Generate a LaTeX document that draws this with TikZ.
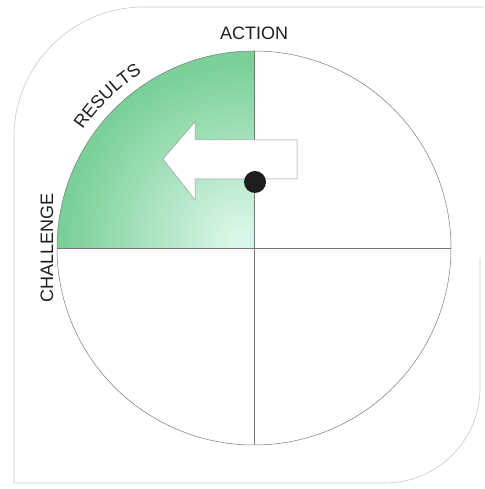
\documentclass[tikz,border=0pt]{standalone}
\usepackage{fontspec}
\setmainfont{Liberation Sans}
\usetikzlibrary{decorations.text}
\definecolor{darkg}{RGB}{122,208,152}
\definecolor{lightg}{RGB}{222,248,234}
\definecolor{framec}{RGB}{200,200,200}
\definecolor{linec}{RGB}{120,120,120}
\definecolor{textc}{RGB}{30,30,30}
\tikzset{
  framestyle/.style={draw=framec, line width=0.6pt},
  ruleline/.style={draw=linec, line width=0.5pt},
  labeltext/.style={font=\fontsize{18}{18}\selectfont, text=textc, inner sep=0pt},
  arrowshape/.style={fill=white, draw=black!40, line width=0.5pt},
}
\begin{document}
\begin{tikzpicture}[x=1pt,y=1pt]
\useasboundingbox (0,0) rectangle (484,489);
% frame
\path[framestyle] (484,482) -- (144,482) arc (90:180:130) -- (14,6) -- (385,6) arc (270:360:95) -- (480,230);
% center and geometry
\coordinate (C) at (254,241);
\coordinate (T) at (254,438);
\coordinate (B) at (254,44);
\coordinate (L) at (57,241);
\coordinate (R) at (451,241);
% green quadrant
\begin{scope}
  \clip (C) -- (L) arc (180:90:197) -- cycle;
  \fill[darkg] (C) -- (L) arc (180:90:197) -- cycle;
  \shade[inner color=lightg, outer color=darkg] (240,250) circle (175);
\end{scope}
% circle and axes
\draw[ruleline] (C) circle (197);
\draw[ruleline] (T) -- (B);
\draw[ruleline] (L) -- (R);
% arrow
\path[arrowshape] (297,349) -- (195,349) -- (195,367) -- (163,330) -- (195,289) -- (195,310) -- (297,310) -- cycle;
% dot
\node[circle, fill=textc, minimum size=22pt, inner sep=0pt] (dot) at (255,307) {};
% labels
\node[labeltext] (action) at (254,456) {ACTION};
\node[labeltext, rotate=90] (challenge) at (47,241) {CHALLENGE};
\path[decorate, decoration={text along path, text align=center,
  text={|\fontsize{18}{18}\selectfont\color{textc}|RESULTS}}]
  (C) ++(160:208) arc (160:108:208);
\end{tikzpicture}
\end{document}
